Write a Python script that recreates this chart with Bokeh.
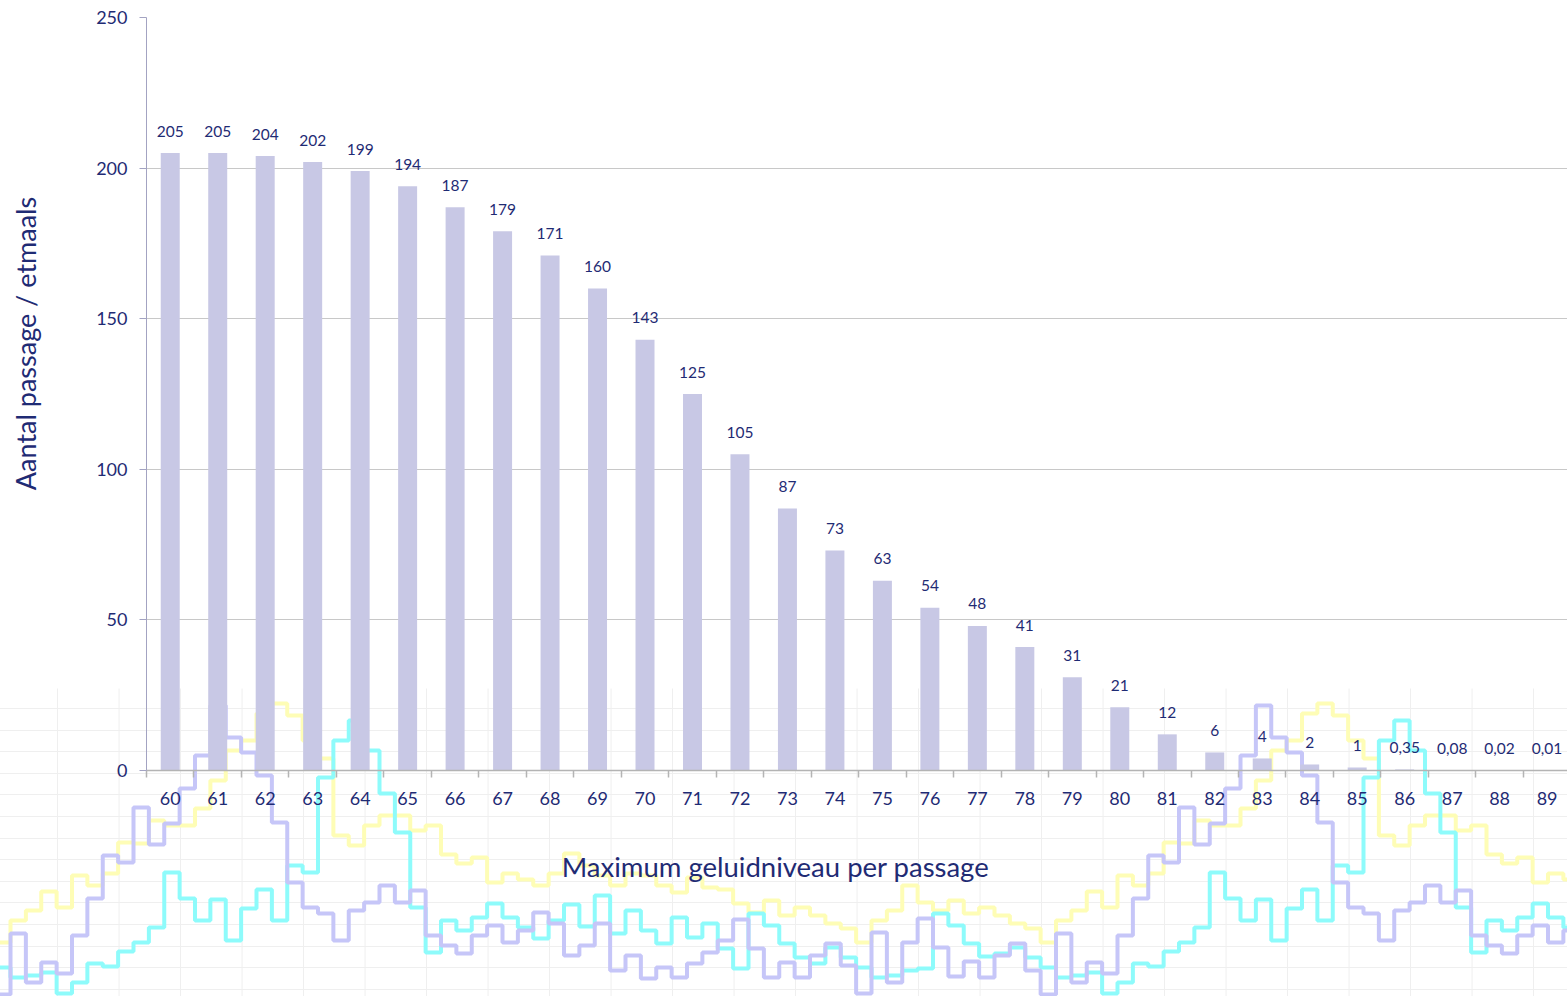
import math
from bokeh.plotting import figure
from bokeh.models import Range1d, FixedTicker, ColumnDataSource
from bokeh.core.properties import value
from bokeh.embed import file_html
from bokeh.resources import INLINE

# ---------------- data ----------------
categories = [60, 61, 62, 63, 64, 65, 66, 67, 68, 69, 70, 71, 72, 73, 74,
              75, 76, 77, 78, 79, 80, 81, 82, 83, 84, 85, 86, 87, 88, 89]
passages = [205, 205, 204, 202, 199, 194, 187, 179, 171, 160, 143, 125, 105, 87, 73,
            63, 54, 48, 41, 31, 21, 12, 6, 4, 2, 1, 0.35, 0.08, 0.02, 0.01]
y_ticks = [0, 50, 100, 150, 200, 250]
x_title = "Maximum geluidniveau per passage"
y_title = "Aantal passage / etmaals"

# decorative background "waveform" (repeating tile, one value per step, height above page bottom)
wave_lavender = [63, 14, 34, 23, 61, 98, 141, 134, 189, 152, 173, 208, 241, 291, 259, 244, 221,
                 174, 114, 89, 83, 56, 86, 94, 111, 94, 106, 61, 51, 43, 61, 71, 54, 66, 84,
                 73, 41, 51, 73, 26, 41, 18, 29, 19, 33, 44, 56, 77, 48, 19, 34, 19, 41, 53,
                 31, 3, 64, 14, 54, 78, 49, 20, 35, 19, 41, 53, 26, 2]
wave_yellow = [76, 86, 105, 89, 121, 111, 123, 154, 153, 176, 171, 171, 188, 216, 246, 256, 283,
               293, 281, 256, 238, 161, 151, 171, 181, 181, 166, 171, 142, 133, 139, 114, 123,
               117, 111, 123, 143, 131, 121, 111, 123, 121, 111, 104, 119, 109, 107, 93, 84,
               96, 81, 89, 81, 73, 68, 54, 76, 86, 111, 94, 86, 96, 83, 89, 81, 73, 68, 54]
wave_cyan = [19, 21, 24, 3, 14, 33, 30, 45, 54, 69, 124, 98, 76, 97, 56, 88, 107, 76, 131, 124,
             219, 256, 276, 246, 203, 164, 89, 44, 76, 66, 79, 93, 79, 69, 58, 76, 92, 70, 101,
             63, 86, 66, 53, 79, 59, 73, 48, 28, 83, 71, 53, 39, 33, 49, 39, 29, 19, 21, 26, 28,
             83, 71, 53, 40, 43, 49, 39, 29]
bg_rows = [7, 29, 50, 72, 94, 115, 137, 158, 180, 202, 223, 245, 266, 288]

# ---------------- layout / style ----------------
W, H = 1567, 996
LEFT, TOP, BOTTOM = 146, 17, 226
X0, X1, Y0, Y1 = 59.5, 89.43, 0, 250
STEP_PX, STEP_X0 = 15.375, 10.0
NAVY = "#1F2B74"
FONT = value("Lato")

p = figure(width=W, height=H, output_backend="svg", toolbar_location=None,
           x_range=Range1d(X0, X1), y_range=Range1d(Y0, Y1),
           min_border_left=LEFT, min_border_right=0, min_border_top=TOP,
           min_border_bottom=BOTTOM, outline_line_color=None,
           background_fill_color="white", border_fill_color="white")

p.extra_x_ranges = {"deco_x": Range1d((LEFT - STEP_X0) / STEP_PX, (W - STEP_X0) / STEP_PX)}
p.extra_y_ranges = {"deco_y": Range1d(BOTTOM, H - TOP)}

n = len(wave_lavender)
xs = list(range(-1, 2 * n))

# faint background grid of the decoration tile
cols = [3.06 + 4 * j for j in range(-1, 27)]
p.segment(x0=cols, y0=[0] * len(cols), x1=cols, y1=[308] * len(cols),
          x_range_name="deco_x", y_range_name="deco_y",
          line_color="#EFEFEF", line_width=1, level="guide")
p.segment(x0=[-1] * len(bg_rows), y0=bg_rows, x1=[2 * n] * len(bg_rows), y1=bg_rows,
          x_range_name="deco_x", y_range_name="deco_y",
          line_color="#EFEFEF", line_width=1, level="guide")

for wave, col in ((wave_yellow, "#FEFDB6"), (wave_cyan, "#8EFBFB"), (wave_lavender, "#C6C6F8")):
    ys = [wave[k % n] for k in xs]
    p.step(xs, ys, mode="after", line_color=col, line_width=4,
           x_range_name="deco_x", y_range_name="deco_y", level="guide")

# bars
labels = [(f"{v:g}").replace(".", ",") for v in passages]
src = ColumnDataSource(dict(x=categories, top=passages, lab=labels))
p.vbar(x="x", top="top", width=0.4, source=src, fill_color="#C8C8E5",
       line_color=None, level="annotation")
p.text(x="x", y="top", text="lab", source=src, text_align="center",
       text_baseline="middle", y_offset=-22, text_font=FONT,
       text_font_size="15.5px", text_color=NAVY, level="annotation")

# axes
p.xaxis.ticker = FixedTicker(ticks=categories, minor_ticks=[c - 0.5 for c in categories] + [categories[-1] + 0.5])
p.xaxis.major_tick_line_color = None
p.xaxis.minor_tick_line_color = "#B4B4B4"
p.xaxis.minor_tick_in = 0
p.xaxis.minor_tick_out = 7
p.xaxis.minor_tick_line_width = 1.5
p.xaxis.axis_line_color = "#B4B4B4"
p.xaxis.axis_line_width = 1.5
p.xaxis.major_label_standoff = 14
p.xaxis.major_label_text_font = "Lato"
p.xaxis.major_label_text_font_size = "18px"
p.xaxis.major_label_text_color = NAVY

p.yaxis.ticker = FixedTicker(ticks=y_ticks)
p.yaxis.axis_line_color = "#A3A3C2"
p.yaxis.major_tick_line_color = "#A3A3C2"
p.yaxis.major_tick_in = 0
p.yaxis.major_tick_out = 7
p.yaxis.minor_tick_line_color = None
p.yaxis.major_label_standoff = 12
p.yaxis.major_label_text_font = "Lato"
p.yaxis.major_label_text_font_size = "18px"
p.yaxis.major_label_text_color = NAVY

for ax in (p.xaxis[0], p.yaxis[0]):
    ax.level = "overlay"

p.xgrid.grid_line_color = None
p.ygrid.grid_line_color = "#C8C8C8"
p.ygrid.grid_line_width = 1

# axis titles (drawn as text glyphs; page pixel positions converted to data units)
px_per_x = (W - LEFT) / (X1 - X0)
px_per_y = (H - TOP - BOTTOM) / (Y1 - Y0)
frame_bottom = H - BOTTOM


def to_data(sx, sy):
    return X0 + (sx - LEFT) / px_per_x, Y0 + (frame_bottom - sy) / px_per_y


xt = to_data(775, 866)
yt = to_data(25, 343)
p.text(x=[xt[0]], y=[xt[1]], text=[x_title], angle=0, text_align="center",
       text_baseline="middle", text_font=FONT, text_font_size="27.5px",
       text_color=NAVY, level="overlay")
p.text(x=[yt[0]], y=[yt[1]], text=[y_title], angle=math.pi / 2, text_align="center",
       text_baseline="middle", text_font=FONT, text_font_size="27px",
       text_color=NAVY, level="overlay")

open("out.html", "w").write(file_html(p, INLINE))
